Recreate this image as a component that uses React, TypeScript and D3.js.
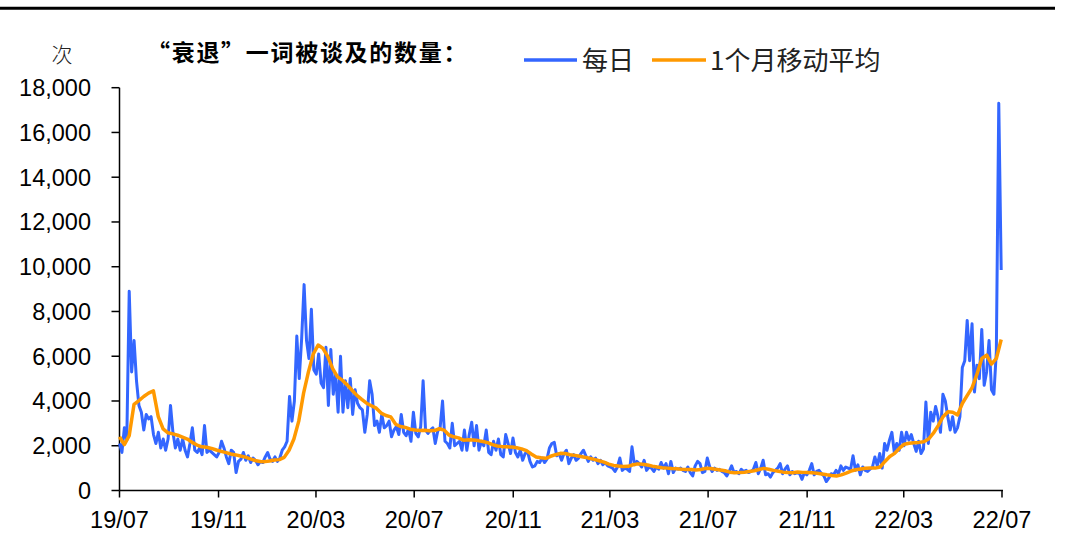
import React from "react";
import * as d3 from "d3";

// ---- data ----
const FIRST_DATE = "2019-07-01";
const LAST_DATE = "2022-06-30";

const dailyMentions = [
  2100, 1700, 2800, 2250, 8900, 5300, 6700, 4900, 3800, 3500,
  2700, 3400, 3200, 3300, 2500, 2100, 2600, 1900, 2300, 1800,
  2300, 3800, 2600, 1900, 2300, 1800, 2300, 1800, 1500, 2100,
  2800, 1800, 1700, 1900, 1600, 2900, 1700, 1800, 1700, 1600,
  1500, 1700, 2200, 1900, 1500, 1200, 1800, 1700, 800, 1300,
  1400, 1700, 1350, 1550, 1250, 1450, 1350, 1150, 1300, 1250,
  1500, 1700, 1400, 1300, 1500, 1300, 1450, 1800, 1950, 2200,
  4200, 3100, 4000, 6900, 5000, 6800, 9200, 6700, 5900, 8100,
  5400, 5200, 6100, 4800, 4600, 6400, 3800, 6300, 4300, 5200,
  3500, 6000, 3500, 4900, 3700, 5000, 3400, 4500, 3900, 3700,
  3600, 2600, 3400, 4900, 4300, 2900, 3100, 2600, 3400, 2800,
  2900, 3100, 2400, 2700, 2850, 2500, 3400, 2600, 2450, 2750,
  2200, 3500, 2550, 2400, 2850, 4900, 2700, 2550, 2700, 2800,
  2100, 2650, 2800, 4000, 2200, 2100, 1900, 3000, 2000, 2100,
  2200, 1800, 2700, 1800, 2500, 3050, 2000, 2900, 1800, 2200,
  2000, 2700, 1700, 1600, 2200, 1800, 2300, 1600, 1500, 2500,
  2100, 1650, 2350, 1700, 1500, 1800, 1350, 1650, 1750, 1300,
  1050, 1100, 1300, 1250, 1450, 1250, 1400, 1900, 2100, 2150,
  1550, 1650, 1350, 1650, 1800, 1200, 1450, 1600, 1350, 1450,
  1650, 1800, 1550, 1300, 1500, 1350, 1450, 1200, 1350, 1150,
  1250, 1100, 1050, 1000, 850, 1050, 1450, 900, 1000, 950,
  850, 1950, 1150, 1300, 1200, 1050, 1350, 900, 1050, 1000,
  850, 1050, 950, 1250, 1000, 1200, 750, 1300, 800, 1000,
  950, 1000, 900, 850, 1050, 800, 650, 1100, 1300, 1200,
  800, 850, 1450, 1050, 850, 1000, 900, 950, 850, 800,
  650, 850, 1100, 800, 850, 750, 950, 850, 900, 800,
  850, 950, 1250, 750, 1000, 1350, 700, 750, 600, 800,
  900, 1000, 1200, 750, 950, 1100, 700, 850, 750, 800,
  750, 500, 800, 700, 900, 1200, 700, 850, 900, 750,
  650, 400, 550, 750, 700, 900, 750, 1100, 900, 1050,
  1000, 950, 1550, 900, 1150, 700, 1050, 900, 850, 950,
  1050, 1500, 1100, 1650, 1000, 2100, 1800, 2250, 2600, 1700,
  2100, 1800, 2600, 2000, 2600, 2250, 2500, 2100, 1750, 2200,
  1650, 1850, 3950, 2100, 3500, 3100, 3750, 3300, 2600, 4300,
  4000, 3300, 2700, 3300, 2600, 2800, 3300, 5500, 5800, 7600,
  5800, 7450, 4400, 5600, 5000, 7200, 4700, 5300, 6700, 4500,
  4300, 6200, 17300, 9850,
];

const monthlyAverage = [
  2400, 2050, 2450, 3850, 4020, 4200, 4350, 4450, 3300, 2750,
  2580, 2530, 2470, 2390, 2300, 2150, 2030, 1950, 1930, 1880,
  1810, 1750, 1690, 1630, 1590, 1540, 1490, 1410, 1340, 1300,
  1290, 1320, 1360, 1380, 1480, 1800, 2300, 3100, 4350, 5300,
  6100, 6500, 6350, 5980, 5450, 5080, 4930, 4720, 4480, 4250,
  4070, 3900, 3790, 3680, 3460, 3350, 3290, 2960, 2860, 2820,
  2740, 2700, 2680, 2690, 2670, 2680, 2760, 2700, 2480, 2400,
  2350, 2250, 2270, 2260, 2230, 2190, 2140, 2050, 1990, 1960,
  1950, 1940, 1910, 1860, 1780, 1630, 1500, 1460, 1440, 1530,
  1600, 1660, 1650, 1600, 1570, 1530, 1490, 1440, 1390, 1330,
  1270, 1180, 1120, 1090, 1070, 1080, 1150, 1190, 1170, 1140,
  1090, 1050, 1020, 1000, 980, 970, 950, 940, 940, 920,
  940, 990, 980, 950, 920, 880, 820, 790, 800, 820,
  850, 880, 940, 990, 950, 900, 860, 820, 800, 790,
  830, 810, 800, 790, 770, 740, 700, 670, 650, 700,
  780, 870, 930, 960, 990, 1000, 1000, 1050, 1300, 1520,
  1660, 1890, 2070, 2110, 2130, 2150, 2180, 2300, 2560, 2900,
  3300, 3520, 3500, 3380, 3900, 4250, 4600, 5200, 5900, 6050,
  5650, 5900, 6750,
];

const yTicks = [0, 2000, 4000, 6000, 8000, 10000, 12000, 14000, 16000, 18000];
const xTickLabels = ["19/07", "19/11", "20/03", "20/07", "20/11", "21/03", "21/07", "21/11", "22/03", "22/07"];

const titleText = "“衰退”一词被谈及的数量：";
const unitText = "次";
const legendDaily = "每日";
const legendMA = "1个月移动平均";

// ---- layout ----
const W = 1067;
const H = 550;
const X0 = 119.5;
const X1 = 1002;
const Y0 = 490.5;
const Y1 = 87.7;
const BLUE = "#3366ff";
const ORANGE = "#ff9900";
const FONT_LATIN = "'Liberation Sans', Arial, sans-serif";
const FONT_CJK = "'Noto Sans CJK SC', sans-serif";

const labelToDate = (s: string) => {
  const [yy, mm] = s.split("/").map(Number);
  return new Date(Date.UTC(2000 + yy, mm - 1, 1));
};

// evenly spaced observation dates between the first and last date
const spreadDates = (n: number) =>
  d3
    .scaleLinear()
    .domain([0, n - 1])
    .range([Date.parse(FIRST_DATE + "T00:00:00Z"), Date.parse(LAST_DATE + "T00:00:00Z")]);

export default function App() {
  const x = d3
    .scaleUtc()
    .domain([labelToDate(xTickLabels[0]), labelToDate(xTickLabels[xTickLabels.length - 1])])
    .range([X0, X1]);
  const y = d3.scaleLinear().domain([0, 18000]).range([Y0, Y1]);

  const dD = spreadDates(dailyMentions.length);
  const dM = spreadDates(monthlyAverage.length);
  const dailyPts = dailyMentions.map((v, i) => ({ d: new Date(dD(i)), v }));
  const maPts = monthlyAverage.map((v, i) => ({ d: new Date(dM(i)), v }));

  const line = d3
    .line<{ d: Date; v: number }>()
    .x((p) => x(p.d))
    .y((p) => y(p.v));

  const fmt = d3.format(",");

  return (
    <div style={{ position: "absolute", left: 0, top: 0 }}>
      <svg width={W} height={H} style={{ display: "block", background: "#fff" }}>
        {/* top rule */}
        <line x1={0} x2={1055} y1={8.3} y2={8.3} stroke="#000" strokeWidth={3} />

        {/* unit + title */}
        <text x={62} y={62} textAnchor="middle" fontFamily={FONT_CJK} fontSize={21} fontWeight={300} fill="#222">
          {unitText}
        </text>
        <text x={147} y={61} fontFamily={FONT_CJK} fontSize={23} fontWeight={700} letterSpacing={1.7} fill="#000">
          {titleText}
        </text>

        {/* legend */}
        <line x1={524} x2={577} y1={60} y2={60} stroke={BLUE} strokeWidth={3.5} />
        <text x={582} y={70} fontFamily={FONT_CJK} fontSize={26} fill="#222">
          {legendDaily}
        </text>
        <line x1={652} x2={706} y1={60} y2={60} stroke={ORANGE} strokeWidth={3.5} />
        <text x={710} y={70} fontFamily={FONT_CJK} fontSize={26} fill="#222">
          {legendMA}
        </text>

        {/* y axis */}
        <line x1={X0} x2={X0} y1={Y1} y2={Y0} stroke="#000" strokeWidth={1.5} />
        {yTicks.map((t) => (
          <g key={t}>
            <line x1={X0 - 8} x2={X0} y1={y(t)} y2={y(t)} stroke="#000" strokeWidth={1.5} />
            <text
              x={91}
              y={y(t)}
              dy="0.36em"
              textAnchor="end"
              fontFamily={FONT_LATIN}
              fontSize={23.5}
              fill="#000"
            >
              {fmt(t)}
            </text>
          </g>
        ))}

        {/* series */}
        <path d={line(dailyPts) || ""} fill="none" stroke={BLUE} strokeWidth={3} strokeLinejoin="round" />
        <path d={line(maPts) || ""} fill="none" stroke={ORANGE} strokeWidth={3.5} strokeLinejoin="round" />

        {/* x axis */}
        <line x1={X0} x2={X1 + 1} y1={Y0} y2={Y0} stroke="#000" strokeWidth={1.5} />
        {xTickLabels.map((lab) => {
          const xx = x(labelToDate(lab));
          return (
            <g key={lab}>
              <line x1={xx} x2={xx} y1={Y0} y2={Y0 + 7} stroke="#000" strokeWidth={1.5} />
              <text x={xx} y={527.5} textAnchor="middle" fontFamily={FONT_LATIN} fontSize={23.5} fill="#000">
                {lab}
              </text>
            </g>
          );
        })}
      </svg>
    </div>
  );
}
